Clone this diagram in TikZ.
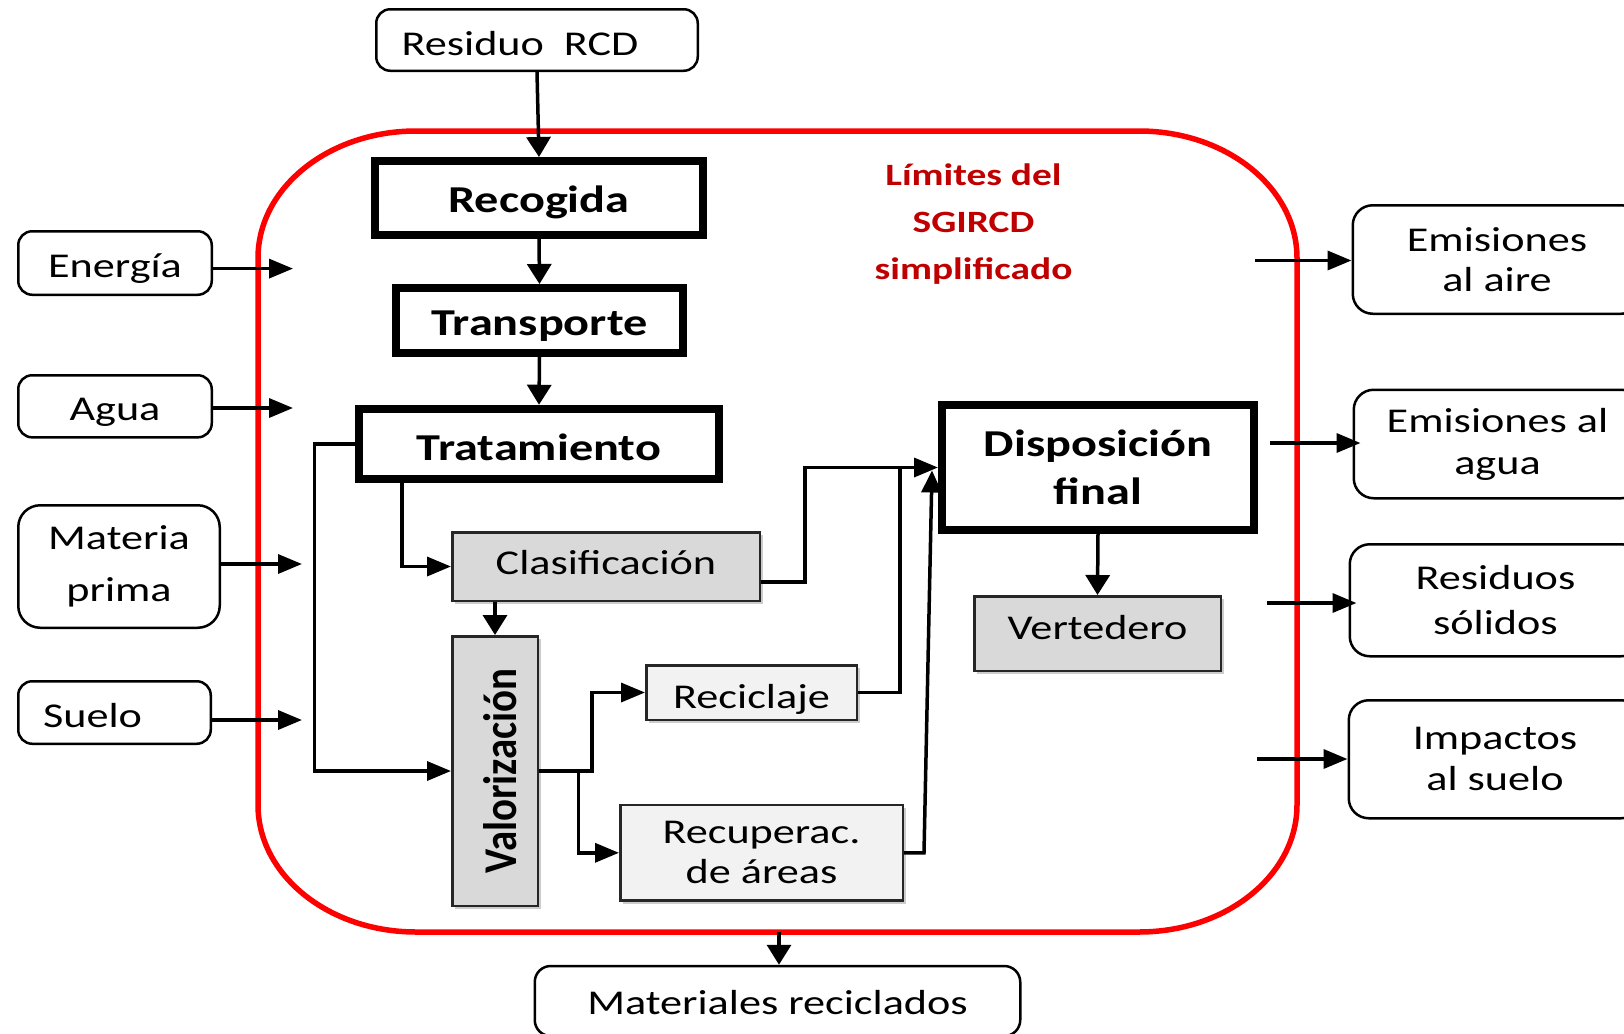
\documentclass[tikz,border=0pt]{standalone}
\usepackage{fontspec}
\setmainfont{Carlito}[FakeStretch=1.27]
\newfontfamily\narrowbold{Carlito}[FakeStretch=0.87]
\usetikzlibrary{arrows.meta,shadows}
\definecolor{boxgray}{HTML}{D9D9D9}
\definecolor{boxlight}{HTML}{F2F2F2}
\definecolor{limitred}{HTML}{FF0000}
\definecolor{labelred}{HTML}{C00000}

\begin{document}
\begin{tikzpicture}[x=0.5pt,y=-0.5pt,
  conn/.style={line width=1.75pt, line join=miter},
  hto/.style={conn,-{Triangle[length=12pt,width=9.5pt]}},
  vto/.style={conn,-{Triangle[length=10pt,width=12pt]}},
  io/.style={draw, line width=1.25pt, rounded corners=7pt, inner sep=0pt,
             font=\fontsize{17.4}{20}\selectfont},
  oneline/.style={text height=#1, text depth=0pt},
  stage/.style={draw, line width=4pt, fill=white, inner sep=0pt, align=center,
                font=\fontsize{19}{24}\selectfont\bfseries},
  sub/.style={draw=black!85, line width=1.25pt, inner sep=0pt, align=center,
              font=\fontsize{17.4}{20}\selectfont,
              drop shadow={shadow xshift=1.5pt, shadow yshift=-1.5pt, fill=black!20, opacity=1}},
  redline/.style={draw=limitred, line width=2.75pt},
]
\useasboundingbox (0,0) rectangle (1624,1034);
\clip (0,0) rectangle (1624,1034);

% system boundary
\draw[redline] (258,258)
  arc[start angle=180, end angle=90, x radius=79pt, y radius=63.5pt] -- (1139,131)
  arc[start angle=90, end angle=0, x radius=79pt, y radius=63.5pt] -- (1297,805)
  arc[start angle=0, end angle=-90, x radius=79pt, y radius=63.5pt] -- (416,932)
  arc[start angle=270, end angle=180, x radius=79pt, y radius=63.5pt] -- cycle;

\node[font=\fontsize{15.5}{23.5}\selectfont\bfseries, text=labelred, align=center]
  (lim) at (973.5,224) {Límites del\\SGIRCD\\simplificado};

% main stages
\node[io, oneline=15pt, minimum width=160.75pt, minimum height=30.75pt] (res) at (537,40) {Residuo\ \ RCD\rule{17pt}{0pt}};
\node[stage, oneline=14.5pt, minimum width=164pt, minimum height=37pt] (rec) at (539,198) {Recogida};
\node[stage, oneline=14.5pt, minimum width=143.5pt, minimum height=32.5pt] (tra) at (539.5,320.5) {Transporte};
\node[stage, oneline=16.5pt, minimum width=180pt, minimum height=35.25pt] (trat) at (539,444) {Tratamiento};
\node[stage, minimum width=156pt, minimum height=62.5pt] (dis) at (1098,467.5) {Disposición\\final};

% sub-processes
\node[sub, oneline=8.2pt, fill=boxgray, minimum width=153.75pt, minimum height=34.25pt] (cla) at (606,566.5) {Clasificación};
\node[sub, fill=boxgray, minimum width=42.75pt, minimum height=134.75pt] (val) at (495,771) {};
\node[rotate=90, inner sep=0pt, text height=21.1pt, text depth=0pt,
      font=\narrowbold\fontsize{23.5}{24}\selectfont\bfseries] (valtxt) at (val.center) {Valorización};
\node[sub, oneline=16pt, fill=boxlight, minimum width=105.25pt, minimum height=27.25pt] (rci) at (751.5,692.5) {Reciclaje};
\node[sub, fill=boxlight, minimum width=141.25pt, minimum height=47.75pt] (rcu) at (761.5,852.8) {Recuperac.\\de áreas};
\node[sub, oneline=6.2pt, fill=boxgray, minimum width=123.25pt, minimum height=37.25pt] (ver) at (1097.5,633.5) {Vertedero};

% inputs
\node[io, oneline=14.2pt, minimum width=96.75pt, minimum height=31.75pt] (ene) at (115,263) {Energía};
\node[io, oneline=13.9pt, minimum width=96.75pt, minimum height=31.05pt] (agu) at (115,406.3) {Agua};
\node[io, rounded corners=11pt, align=center, font=\fontsize{17.4}{26}\selectfont,
      minimum width=100.75pt, minimum height=61.25pt] (mat) at (119,566.5) {Materia\\prima};
\node[io, oneline=14.7pt, minimum width=96.25pt, minimum height=31.25pt] (sue) at (114.5,712.5) {Suelo\rule{22pt}{0pt}};

% outputs
\node[io, rounded corners=10pt, align=center, minimum width=144.25pt, minimum height=54.25pt]
  (ea) at (1497,259.5) {Emisiones\\al aire};
\node[io, rounded corners=10pt, align=center, font=\fontsize{17.4}{21}\selectfont,
      minimum width=143.75pt, minimum height=54.25pt] (eg) at (1497.5,444) {Emisiones al\\agua};
\node[io, rounded corners=10pt, align=center, font=\fontsize{17.4}{22.5}\selectfont,
      minimum width=145.75pt, minimum height=56pt] (rs) at (1495.5,600.25) {Residuos\\sólidos};
\node[io, rounded corners=10pt, align=center, font=\fontsize{17.4}{20.5}\selectfont,
      minimum width=146.25pt, minimum height=59pt] (im) at (1495,759.25) {Impactos\\al suelo};
\node[io, oneline=13.5pt, rounded corners=8pt, minimum width=242.75pt, minimum height=35pt] (mr) at (777.5,1001) {Materiales reciclados};

% main flow
\draw[vto] (res.south) -- (rec.north);
\draw[vto] (rec.south) -- (tra.north);
\draw[vto] (tra.south) -- (trat.north);

\coordinate (kTL) at (314.5,0);
\coordinate (kTC) at (402,0);
\coordinate (kVR) at (592,0);
\coordinate (kVB) at (578.5,0);
\coordinate (kCD) at (805,0);
\coordinate (kRD) at (900,467.5);
\coordinate (kUD) at (924,0);

\draw[hto] (trat.west) -- (trat.west -| kTL) |- (val.west);
\draw[hto] (trat.south -| kTC) |- (cla.west);
\draw[vto] (cla.south -| val.north) -- (val.north);
\draw[hto] (val.east) -- (val.east -| kVR) |- (rci.west);
\draw[hto] (val.east -| kVB) |- (rcu.west);
\draw[hto] ([yshift=-7.75pt]cla.east) -| (kCD |- dis.west) -- (dis.west);
\draw[conn] (rci.east) -| (kRD);
\draw[conn,-{Triangle[length=11pt,width=10pt]}] (rcu.east) -- (rcu.east -| kUD) -- ([xshift=-3pt,yshift=-1.5pt]dis.west);
\draw[vto] (dis.south) -- (ver.north);

% flows across the boundary
\coordinate (inE) at (293,268.6);
\coordinate (inA) at (293,408);
\coordinate (inM) at (302,564);
\coordinate (inS) at (302,720);
\draw[hto] (ene.east |- inE) -- (inE);
\draw[hto] (agu.east |- inA) -- (inA);
\draw[hto] (mat.east |- inM) -- (inM);
\draw[hto] (sue.east |- inS) -- (inS);

\coordinate (outA) at (1255,260.5);
\coordinate (outG) at (1270,443);
\coordinate (outR) at (1267,603);
\coordinate (outI) at (1257,759);
\draw[hto] (outA) -- (outA -| ea.west);
\draw[hto, shorten >=-4pt] (outG) -- (outG -| eg.west);
\draw[hto, shorten >=-4pt] (outR) -- (outR -| rs.west);
\draw[hto] (outI) -- (outI -| im.west);

\coordinate (redOut) at (779,932);
\draw[vto] (redOut) -- (redOut |- mr.north);
\end{tikzpicture}
\end{document}
